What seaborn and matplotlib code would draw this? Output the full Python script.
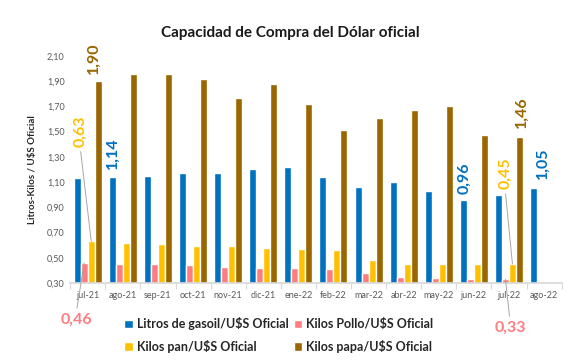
import numpy as np
import pandas as pd
import seaborn as sns
import matplotlib.pyplot as plt

meses = ['jul-21', 'ago-21', 'sep-21', 'oct-21', 'nov-21', 'dic-21', 'ene-22',
         'feb-22', 'mar-22', 'abr-22', 'may-22', 'jun-22', 'jul-22', 'ago-22']

gasoil = [1.13, 1.14, 1.15, 1.17, 1.17, 1.20, 1.22, 1.14, 1.06, 1.10, 1.03, 0.96, 1.00, 1.05]
pollo = [0.46, 0.45, 0.45, 0.44, 0.43, 0.42, 0.42, 0.41, 0.38, 0.35, 0.34, 0.33, 0.33, np.nan]
pan = [0.63, 0.62, 0.61, 0.59, 0.59, 0.58, 0.57, 0.56, 0.48, 0.45, 0.45, 0.45, 0.45, np.nan]
papa = [1.90, 1.96, 1.96, 1.92, 1.77, 1.88, 1.72, 1.51, 1.61, 1.67, 1.70, 1.47, 1.46, np.nan]

series = ['Litros de gasoil/U$S Oficial', 'Kilos Pollo/U$S Oficial',
          'Kilos pan/U$S Oficial', 'Kilos papa/U$S Oficial']
colores = ['#0070C0', '#FF7C80', '#FFC000', '#996600']

df = pd.DataFrame({'mes': meses, series[0]: gasoil, series[1]: pollo,
                   series[2]: pan, series[3]: papa})
df = df.melt(id_vars='mes', var_name='serie', value_name='valor').dropna()

sns.set_theme(style='white')
plt.rcParams['font.family'] = ['Lato', 'DejaVu Sans']

fig = plt.figure(figsize=(5.85, 3.61), dpi=100)
ax = fig.add_axes([0.12, 0.216, 0.84, 0.629])

sns.barplot(data=df, x='mes', y='valor', hue='serie', order=meses, hue_order=series,
            palette=colores, saturation=1, width=0.8, ax=ax)

ax.set_ylim(0.3, 2.1)
ax.set_xlim(-0.5, len(meses) - 0.5)
yt = np.arange(0.3, 2.11, 0.2)
ax.set_yticks(yt)
ax.set_yticklabels([f'{v:.2f}'.replace('.', ',') for v in yt], fontsize=6.5, color='#595959')
ax.set_xticks(range(len(meses)))
ax.set_xticklabels(meses, fontsize=6.5, color='#595959')
ax.set_xticks(np.arange(-0.5, len(meses)), minor=True)
ax.tick_params(axis='x', which='major', length=0, pad=6)
ax.tick_params(axis='x', which='minor', length=4, color='#D9D9D9', width=0.8, bottom=True)
ax.tick_params(axis='y', length=0, pad=4)
ax.set_xlabel('')
ax.set_ylabel('Litros-Kilos / U$S Oficial', fontsize=7, fontweight='bold', labelpad=7)
for s in ['top', 'right', 'left']:
    ax.spines[s].set_visible(False)
ax.spines['bottom'].set_color('#D9D9D9')

fig.text(0.496, 0.908, 'Capacidad de Compra del Dólar oficial', ha='center', va='center',
         fontsize=11, fontweight='bold', color='#1a1a1a')


def bar_at(serie, mes):
    cont = ax.containers[series.index(serie)]
    i = meses.index(mes)
    for b in cont:
        if abs(b.get_x() + b.get_width() / 2 - i) < 0.5:
            return b


def fmt(v):
    return f'{v:.2f}'.replace('.', ',')


# etiquetas verticales: serie, mes, desplazamiento (pt), linea guia
etiquetas = [
    (series[3], 'jul-21', (-3, 5), False),
    (series[0], 'ago-21', (0.5, 6), False),
    (series[0], 'jun-22', (0.5, 4), False),
    (series[3], 'jul-22', (1.5, 6.5), False),
    (series[0], 'ago-22', (6.5, 6.5), False),
    (series[2], 'jul-21', (-8, 68), True),
    (series[2], 'jul-22', (-5.3, 54), True),
]
for serie, mes, off, guia in etiquetas:
    b = bar_at(serie, mes)
    xc = b.get_x() + b.get_width() / 2
    h = b.get_height()
    col = colores[series.index(serie)]
    kw = {}
    if guia:
        kw['arrowprops'] = dict(arrowstyle='-', color='#A6A6A6', lw=0.7,
                                relpos=(0.5, 0), shrinkA=1, shrinkB=0)
    ax.annotate(fmt(h), (xc, h), xytext=off, textcoords='offset points',
                rotation=90, ha='center', va='bottom', fontsize=11.5,
                fontweight='bold', color=col, annotation_clip=False, **kw)

# etiquetas de pollo bajo el eje
for mes, off in [('jul-21', (-5.8, -36)), ('jul-22', (3.3, -30))]:
    b = bar_at(series[1], mes)
    xc = b.get_x() + b.get_width() / 2
    h = b.get_height()
    ax.annotate(fmt(h), (xc, h), xytext=off, textcoords='offset points',
                ha='center', va='top', fontsize=11.5, fontweight='bold',
                color=colores[1], annotation_clip=False,
                arrowprops=dict(arrowstyle='-', color='#A6A6A6', lw=0.7,
                                relpos=(0.5, 1), shrinkA=1, shrinkB=0))

handles, labels = ax.get_legend_handles_labels()
orden = [0, 2, 1, 3]
ax.legend([handles[i] for i in orden], [labels[i] for i in orden], ncol=2,
          loc='upper left', bbox_to_anchor=(118 / 585, 1 - 311 / 361),
          bbox_transform=fig.transFigure, frameon=False,
          prop={'size': 9, 'weight': 'bold'}, handlelength=0.7, handleheight=0.7,
          handletextpad=0.3, columnspacing=0.4, labelspacing=0.75, borderpad=0)

fig.savefig('out.png', dpi=100)
